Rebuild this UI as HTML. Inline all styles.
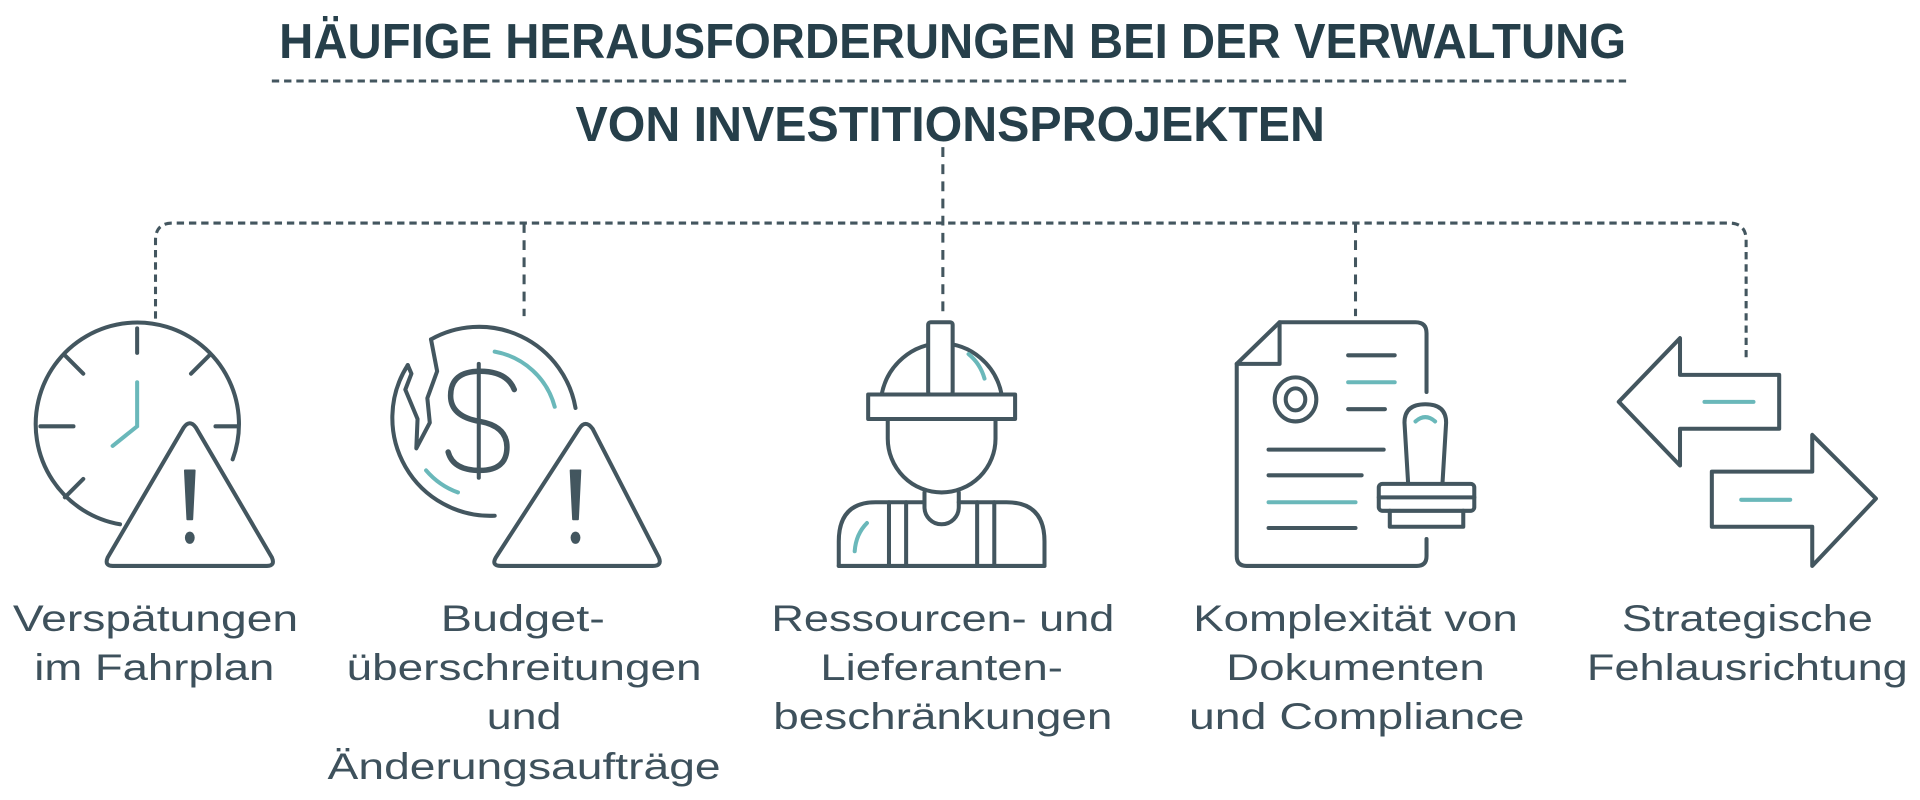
<!DOCTYPE html>
<html><head><meta charset="utf-8"><style>
html,body{margin:0;padding:0;background:#fff;width:1920px;height:800px;overflow:hidden}
svg{display:block}
.t{font-family:"Liberation Sans",sans-serif;font-weight:bold;fill:#263f4a}
.l{font-family:"Liberation Sans",sans-serif;fill:#3e515c;font-size:30px}
</style></head><body>
<svg width="1920" height="800" viewBox="0 0 1568 653" xmlns="http://www.w3.org/2000/svg">
<text class="t" x="778" y="47" font-size="40" text-anchor="middle" textLength="1100" lengthAdjust="spacingAndGlyphs">HÄUFIGE HERAUSFORDERUNGEN BEI DER VERWALTUNG</text>
<text class="t" x="776" y="115" font-size="40" text-anchor="middle" textLength="612" lengthAdjust="spacingAndGlyphs">VON INVESTITIONSPROJEKTEN</text>
<g fill="none" stroke="#43565f" stroke-width="2.5">
<line x1="222" y1="66" x2="1330" y2="66" stroke-dasharray="6,4"/>
<line x1="770" y1="120" x2="770" y2="260" stroke-dasharray="8,6"/>
<path d="M127 260 V196 Q127 182 141 182 H1412 Q1426 182 1426 196 V292" stroke-dasharray="6,4"/>
<line x1="428" y1="182" x2="428" y2="258" stroke-dasharray="8,6"/>
<line x1="1107" y1="182" x2="1107" y2="258" stroke-dasharray="8,6"/>
</g>
<g fill="none" stroke="#43565f" stroke-width="3.3" stroke-linecap="round" stroke-linejoin="round">
<!-- clock -->
<path d="M98 428 A83 83 0 1 1 190 375"/>
<line x1="112" y1="268" x2="112" y2="288"/>
<line x1="33" y1="348" x2="60" y2="348"/>
<line x1="176" y1="348" x2="194" y2="348"/>
<line x1="53" y1="290" x2="68" y2="305"/>
<line x1="171" y1="290" x2="156" y2="305"/>
<line x1="53" y1="406" x2="68" y2="391"/>
<path d="M150 349 Q155 342 160 349 L222 455 Q225 462 218 462 H92 Q85 462 88 455 Z" fill="#fff"/>
<path d="M151 384 H159 L157 424 H153 Z" fill="#43565f" stroke-width="1.5"/>
<ellipse cx="155" cy="439" rx="4" ry="5" fill="#43565f" stroke="none"/>
<!-- coin -->
<path d="M352 277 A80 80 0 0 1 470 333"/>
<path d="M404 421 A80 80 0 0 1 333 298"/>
<path d="M352 277 L357 303 L349 325 L351 345 L340 366 L341 342 L331 318 L336 305 L333 298"/>
<line x1="391" y1="297" x2="391" y2="390"/>
<path d="M420 318 Q414 303 392 303 Q368 303 368 323 Q368 340 392 344 Q414 348 414 365 Q414 384 392 384 Q370 384 366 369" stroke-width="4.5"/>
<path d="M473 350 Q478 342 484 350 L538 455 Q541 462 533 462 H409 Q401 462 405 455 Z" fill="#fff"/>
<path d="M466 384 H474 L472 424 H468 Z" fill="#43565f" stroke-width="1.5"/>
<ellipse cx="470" cy="439" rx="4" ry="5" fill="#43565f" stroke="none"/>
<!-- worker -->
<path d="M720 322 A50 52 0 0 1 818 322"/>
<rect x="758" y="263" width="20" height="59" rx="2" fill="#fff"/>
<rect x="709" y="322" width="120" height="20" fill="#fff"/>
<path d="M725 342 V358 A44 44 0 0 0 813 358 V342"/>
<path d="M755 402 V414 A14 14 0 0 0 783 414 V402"/>
<path d="M685 462 V442 Q685 410 715 410 H755"/>
<path d="M783 410 H822 Q853 410 853 442 V462"/>
<line x1="685" y1="462" x2="853" y2="462"/>
<line x1="726" y1="410" x2="726" y2="462"/>
<line x1="740" y1="410" x2="740" y2="462"/>
<line x1="798" y1="410" x2="798" y2="462"/>
<line x1="812" y1="410" x2="812" y2="462"/>
<!-- document -->
<path d="M1165 320 V272 Q1165 263 1156 263 H1045 L1010 297 V454 Q1010 462 1018 462 H1157 Q1165 462 1165 454 V440"/>
<path d="M1045 263 V297 H1010"/>
<ellipse cx="1058" cy="326" rx="17" ry="18"/>
<ellipse cx="1058" cy="326" rx="8" ry="9"/>
<line x1="1101" y1="290" x2="1139" y2="290"/>
<line x1="1101" y1="334" x2="1131" y2="334"/>
<line x1="1036" y1="367" x2="1130" y2="367"/>
<line x1="1036" y1="388" x2="1112" y2="388"/>
<line x1="1036" y1="431" x2="1107" y2="431"/>
<path d="M1150 395 L1147 345 Q1147 330 1164 330 Q1181 330 1181 345 L1178 395" fill="#fff"/>
<rect x="1126" y="395" width="78" height="22" rx="3" fill="#fff"/>
<line x1="1126" y1="406" x2="1204" y2="406"/>
<path d="M1135 417 V430 H1195 V417"/>
<!-- arrows -->
<path d="M1322 328 L1372 276 V306 H1453 V350 H1372 V380 Z"/>
<path d="M1532 407 L1480 355 V385 H1398 V430 H1480 V462 Z"/>
</g>
<g fill="none" stroke="#6ab8ba" stroke-width="3.3" stroke-linecap="round">
<path d="M112 312 V348 L92 364"/>
<path d="M404 287 A62 62 0 0 1 453 332"/>
<path d="M348 384 A62 62 0 0 0 374 402"/>
<path d="M791 289 A40 40 0 0 1 804 309"/>
<path d="M708 427 Q699 436 698 450"/>
<line x1="1101" y1="312" x2="1139" y2="312"/>
<line x1="1036" y1="410" x2="1107" y2="410"/>
<path d="M1156 344 Q1164 337 1172 344"/>
<line x1="1392" y1="328" x2="1432" y2="328"/>
<line x1="1422" y1="408" x2="1462" y2="408"/>
</g>
<g class="l" text-anchor="middle">
<text x="127" y="515" textLength="233" lengthAdjust="spacingAndGlyphs">Verspätungen</text>
<text x="126" y="555" textLength="196" lengthAdjust="spacingAndGlyphs">im Fahrplan</text>
<text x="427" y="515" textLength="134" lengthAdjust="spacingAndGlyphs">Budget-</text>
<text x="428" y="555" textLength="290" lengthAdjust="spacingAndGlyphs">überschreitungen</text>
<text x="428" y="595" textLength="61" lengthAdjust="spacingAndGlyphs">und</text>
<text x="428" y="636" textLength="321" lengthAdjust="spacingAndGlyphs">Änderungsaufträge</text>
<text x="770" y="515" textLength="280" lengthAdjust="spacingAndGlyphs">Ressourcen- und</text>
<text x="769" y="555" textLength="198" lengthAdjust="spacingAndGlyphs">Lieferanten-</text>
<text x="770" y="595" textLength="277" lengthAdjust="spacingAndGlyphs">beschränkungen</text>
<text x="1107" y="515" textLength="265" lengthAdjust="spacingAndGlyphs">Komplexität von</text>
<text x="1107" y="555" textLength="211" lengthAdjust="spacingAndGlyphs">Dokumenten</text>
<text x="1108" y="595" textLength="274" lengthAdjust="spacingAndGlyphs">und Compliance</text>
<text x="1427" y="515" textLength="205" lengthAdjust="spacingAndGlyphs">Strategische</text>
<text x="1427" y="555" textLength="262" lengthAdjust="spacingAndGlyphs">Fehlausrichtung</text>
</g>
</svg>
</body></html>
